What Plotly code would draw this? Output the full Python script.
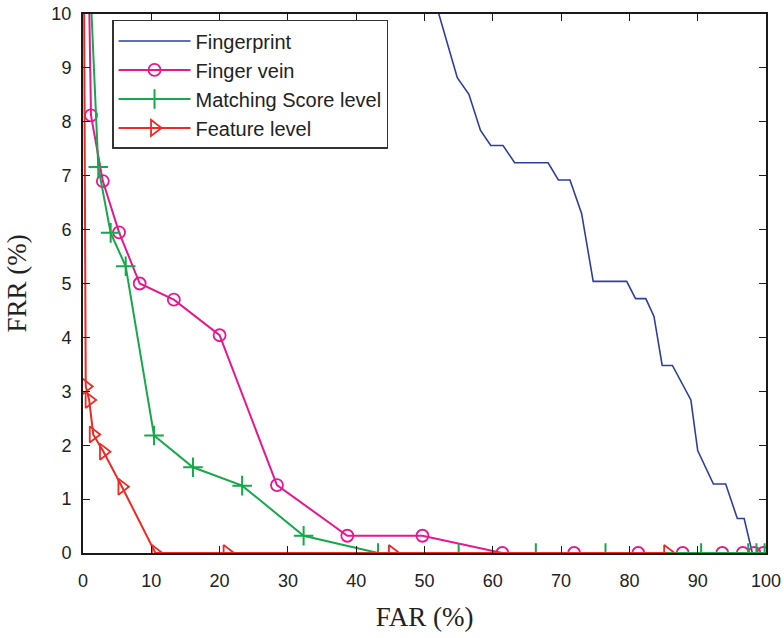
import plotly.graph_objects as go

# Fingerprint (blue line, no markers)
fp_far = [50.9, 52.1, 54.8, 56.5, 58.2, 59.7, 61.5, 63.2, 68.1, 69.6, 71.3, 73.0, 74.7,
          79.6, 80.9, 82.4, 83.6, 84.8, 86.3, 89.0, 90.0, 92.3, 94.1, 95.8, 96.8, 98.0, 100.0]
fp_frr = [10.5, 10.0, 8.82, 8.51, 7.84, 7.56, 7.56, 7.24, 7.24, 6.92, 6.92, 6.30, 5.04,
          5.04, 4.72, 4.72, 4.39, 3.48, 3.48, 2.84, 1.90, 1.28, 1.28, 0.64, 0.64, 0.0, 0.0]

# Finger vein (magenta circles)
fv_far = [0.5, 1.17, 2.9, 5.28, 8.3, 13.3, 20.0, 28.4, 38.7, 49.7, 61.4, 71.9, 81.3, 87.8, 93.6, 96.6, 98.3, 99.6]
fv_frr = [13.4, 8.12, 6.90, 5.95, 5.00, 4.70, 4.04, 1.26, 0.32, 0.32, 0.0, 0.0, 0.0, 0.0, 0.0, 0.0, 0.0, 0.0]

# Matching score level fusion (green plus)
ms_far = [0.8, 2.24, 4.05, 6.25, 10.4, 16.1, 23.3, 32.3, 43.2, 55.0, 66.3, 76.5, 90.5, 97.4, 98.6, 99.8]
ms_frr = [11.3, 7.16, 5.94, 5.32, 2.18, 1.59, 1.25, 0.32, 0.0, 0.0, 0.0, 0.0, 0.0, 0.0, 0.0, 0.0]

# Feature level fusion (red right triangles)
fl_far = [0.1, 0.4, 0.9, 1.5, 3.0, 5.7, 10.6, 21.1, 45.3, 85.6]
fl_frr = [12.0, 3.09, 2.84, 2.20, 1.88, 1.23, 0.0, 0.0, 0.0, 0.0]

x_ticks = [0, 10, 20, 30, 40, 50, 60, 70, 80, 90, 100]
y_ticks = [0, 1, 2, 3, 4, 5, 6, 7, 8, 9, 10]

BLUE = "#2E3E9E"
MAGENTA = "#E8178F"
GREEN = "#16A84A"
RED = "#EE2A24"

fig = go.Figure()
fig.add_trace(go.Scatter(x=fp_far, y=fp_frr, mode="lines", name="Fingerprint",
                         line=dict(color=BLUE, width=1.6)))
fig.add_trace(go.Scatter(x=fv_far, y=fv_frr, mode="lines+markers", name="Finger vein",
                         line=dict(color=MAGENTA, width=2),
                         marker=dict(symbol="circle-open", size=12, color=MAGENTA,
                                     line=dict(color=MAGENTA, width=1.8))))
fig.add_trace(go.Scatter(x=ms_far, y=ms_frr, mode="lines+markers", name="Matching Score level",
                         line=dict(color=GREEN, width=2),
                         marker=dict(symbol="cross-thin", size=14, color=GREEN,
                                     line=dict(color=GREEN, width=2))))
fig.add_trace(go.Scatter(x=fl_far, y=fl_frr, mode="lines+markers", name="Feature level",
                         line=dict(color=RED, width=2),
                         marker=dict(symbol="triangle-right-open", size=14, color=RED,
                                     line=dict(color=RED, width=1.8))))

axis_common = dict(
    showline=True, linecolor="#1a1a1a", linewidth=2, mirror="ticks",
    ticks="inside", ticklen=7, tickwidth=1.3, tickcolor="#1a1a1a",
    showgrid=False, zeroline=False, automargin=False,
    tickfont=dict(family="Liberation Sans, Arial, sans-serif", size=18, color="#222"),
)

fig.update_layout(
    width=784, height=638,
    margin=dict(l=83, r=18, t=14, b=85),
    paper_bgcolor="white", plot_bgcolor="white",
    xaxis=dict(range=[0, 100], tickvals=x_ticks, ticktext=[str(v) for v in x_ticks],
               ticklabelstandoff=10,
               title=dict(text="FAR (%)", standoff=18,
                          font=dict(family="Liberation Serif, Times New Roman, serif", size=27, color="#222")),
               **axis_common),
    yaxis=dict(range=[0, 10], tickvals=y_ticks, ticktext=[str(v) for v in y_ticks],
               ticklabelstandoff=6,
               title=dict(text="FRR (%)", standoff=17,
                          font=dict(family="Liberation Serif, Times New Roman, serif", size=27, color="#222")),
               **axis_common),
    legend=dict(x=0.0425, y=0.989, xanchor="left", yanchor="top",
                bgcolor="white", bordercolor="#333", borderwidth=1.5,
                font=dict(family="Liberation Sans, Arial, sans-serif", size=20, color="#222"),
                itemwidth=72, tracegroupgap=0),
    showlegend=True,
)

fig.write_html("out.html")
